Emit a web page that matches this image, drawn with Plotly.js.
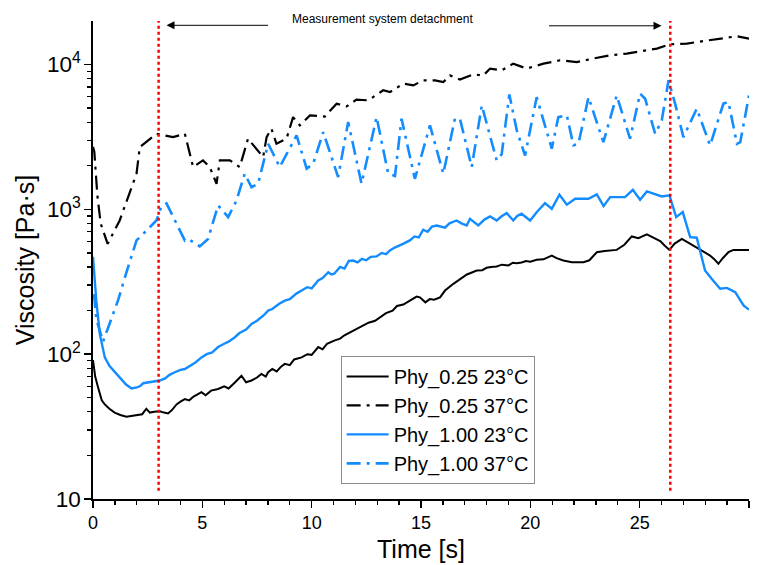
<!DOCTYPE html>
<html>
<head>
<meta charset="utf-8">
<script src="https://cdn.plot.ly/plotly-3.0.1.min.js"></script>
<style>
  html, body { margin: 0; padding: 0; background: #fff; }
  #chart { width: 757px; height: 565px; }
</style>
</head>
<body>
<div id="chart"></div>
<script>
// ---- Data ----
const seriesNames = ["Phy_0.25 23°C", "Phy_0.25 37°C", "Phy_1.00 23°C", "Phy_1.00 37°C"];

const t025_23 = [0,0.1,0.23,0.4,0.54,0.75,0.99,1.25,1.53,1.8,2.06,2.25,2.44,2.6,2.8,3.05,3.25,3.43,3.6,3.82,4.0,4.2,4.4,4.6,4.96,5.15,5.4,5.72,6.0,6.2,6.5,6.79,7.0,7.25,7.5,7.7,7.9,8.01,8.2,8.4,8.6,8.77,9.0,9.2,9.54,9.8,10.0,10.3,10.5,10.7,11.03,11.3,11.5,11.75,12.0,12.3,12.6,12.9,13.12,13.4,13.7,13.9,14.19,14.4,14.6,14.8,14.95,15.2,15.4,15.6,15.87,16.1,16.48,16.8,17.1,17.3,17.55,17.8,18.0,18.2,18.46,18.7,19.0,19.2,19.38,19.6,19.8,20.0,20.29,20.6,20.98,21.2,21.51,21.9,22.43,22.7,23.04,23.4,23.95,24.3,24.64,24.94,25.33,25.6,25.94,26.15,26.36,26.6,26.93,27.3,27.61,27.9,28.22,28.4,28.6,28.8,29.06,29.29,29.6,30];
const v025_23 = [91,70,59,48,45,42,39.5,38,37,37.5,38,38.5,42,39.5,40,40.3,39.5,39,41,45,47,49,48,51,54.6,52,56,57.5,60,58,64,71,64,65.8,69,73,70,75,79,76,82,85.7,84,92,95,100,99,112,108,118,124,128,135,141,148,155,165,170,180,192,200,215,220,230,240,250,247,228,240,238,247,275,306,330,355,365,378,380,395,400,403,415,410,428,425,430,440,435,448,452,480,460,443,432,432,445,506,515,525,570,650,632,671,640,603,560,525,580,626,580,543,510,480,455,421,460,506,525,525,525];

const t025_37 = [0,0.06,0.2,0.35,0.67,1.22,1.99,2.14,2.9,3.66,4.2,4.58,5.03,5.34,5.65,5.8,6.26,6.71,7.09,7.48,7.78,7.94,8.16,8.39,8.85,9.15,9.46,9.92,10.6,11.14,11.6,12.05,12.59,13.27,13.58,14.19,14.65,15.1,15.64,16.02,16.33,16.78,17.39,17.85,18.16,18.69,19.22,19.83,20.6,21.36,22.12,22.88,23.65,24.41,25.17,25.79,26.39,27.16,27.92,28.68,29.45,30];
const v025_37 = [2700,2500,1250,800,578,838,1762,2692,3327,3155,3327,1960,2178,1960,1503,2178,2178,1960,3076,2626,2297,3155,3607,2838,3076,4333,3800,4456,4370,5370,5140,5720,5660,6640,6450,7380,7180,7780,7780,7570,8410,7870,8550,8410,9380,9120,10140,9380,10140,10700,10400,11000,11580,11900,12390,12880,13800,13940,14530,15100,15670,15100];

const t100_23 = [0,0.08,0.15,0.31,0.54,0.75,0.99,1.3,1.5,1.76,2.0,2.14,2.3,2.52,2.8,3.05,3.3,3.5,3.74,4.0,4.2,4.5,4.7,4.96,5.2,5.45,5.72,6.0,6.2,6.49,6.7,7.0,7.25,7.5,7.8,8.01,8.2,8.5,8.77,9.0,9.3,9.54,9.8,10.0,10.3,10.5,10.76,10.9,11.03,11.3,11.5,11.7,11.9,12.1,12.3,12.5,12.7,12.97,13.2,13.4,13.58,13.8,14.0,14.2,14.49,14.7,14.9,15.1,15.3,15.5,15.72,15.9,16.1,16.3,16.63,16.85,17.09,17.24,17.4,17.62,17.9,18.16,18.46,18.7,18.92,19.22,19.4,19.6,19.99,20.3,20.67,20.98,21.33,21.67,22.05,22.66,23.04,23.35,23.65,24.33,24.69,25.02,25.33,26.01,26.36,26.67,26.97,27.31,27.61,27.99,28.3,28.68,28.99,29.37,29.75,30];
const v100_23 = [470,330,234,138,95,83,75,67,62,58,59,60,63,64,65,65.8,68,72,75,78,79,84,88,95,100,103,112,118,122,131,140,148,162,170,185,200,205,222,234,240,262,275,290,285,323,335,368,355,359,400,390,440,443,430,455,445,470,473,500,490,520,545,560,580,610,650,640,723,700,760,774,760,747,800,838,800,774,861,820,774,850,893,838,900,942,838,900,933,838,960,1104,1009,1262,1077,1183,1183,1268,1052,1214,1214,1365,1164,1330,1228,1248,884,957,643,637,378,331,283,287,268,217,203];

const t100_37 = [0.05,0.15,0.46,1.14,1.6,1.99,2.37,2.9,3.13,3.36,4.2,4.35,4.88,5.26,5.72,6.18,6.56,6.94,7.25,7.55,8.01,8.54,9.31,9.77,10.07,10.53,11.21,11.67,12.28,12.97,13.5,13.81,14.11,14.72,15.41,16.02,16.55,16.78,17.32,17.78,18.46,18.69,19.04,19.38,19.76,20.29,20.98,21.28,21.67,21.97,22.2,22.66,23.34,23.95,24.56,25.02,25.25,25.71,26.01,26.32,26.62,27.0,27.61,28.22,28.83,29.06,29.45,29.6,30];
const v100_37 = [260,175,122,234,398,610,695,838,1050,1100,610,625,555,625,1065,884,1150,1762,1422,1503,2838,1960,3244,1911,2066,3414,1670,4010,1503,4333,1762,1700,4227,1625,3800,1762,4227,4227,1960,5220,2178,2400,6220,3510,2355,5950,2626,4333,4456,2768,2838,5950,2910,6120,3076,6300,5807,3327,4110,7780,5370,3155,4956,2768,5370,5510,2838,2910,6120];

const xTicks = [0, 5, 10, 15, 20, 25, 30];
const markerTimes = [3.0, 26.4];
const annotationText = "Measurement system detachment";

// ---- Styling ----
const BLACK = "#000000";
const BLUE = "rgb(18,140,255)";
const FONT = "Liberation Sans, Arial, sans-serif";
const DASHDOT = "14px,6px,3px,6px";

const traces = [
  {x: t025_23, y: v025_23, name: seriesNames[0], mode: "lines", line: {color: BLACK, width: 2}},
  {x: t025_37, y: v025_37, name: seriesNames[1], mode: "lines", line: {color: BLACK, width: 2.2, dash: DASHDOT}},
  {x: t100_23, y: v100_23, name: seriesNames[2], mode: "lines", line: {color: BLUE, width: 2.4}},
  {x: t100_37, y: v100_37, name: seriesNames[3], mode: "lines", line: {color: BLUE, width: 2.6, dash: DASHDOT}}
];

const shapes = markerTimes.map(t => ({
  type: "line", xref: "x", yref: "paper", x0: t, x1: t, y0: 0.017, y1: 1,
  line: {color: "red", width: 2.5, dash: "dot"}
}));

const layout = {
  width: 757, height: 565,
  margin: {l: 93, r: 8, t: 21, b: 66},
  paper_bgcolor: "#fff", plot_bgcolor: "#fff",
  font: {family: FONT, color: "#000"},
  showlegend: true,
  legend: {
    x: 0.3775, y: 0.2994, xanchor: "left", yanchor: "top",
    bordercolor: "#8c8c8c", borderwidth: 1, bgcolor: "#fff",
    font: {family: FONT, size: 20, color: "#000"},
    tracegroupgap: 0, itemwidth: 42
  },
  xaxis: {
    range: [0, 30], tickvals: xTicks, ticktext: xTicks.map(String),
    showline: true, linecolor: "#000", linewidth: 1.6, mirror: false,
    ticks: "outside", ticklen: 7, tickwidth: 1.5, tickcolor: "#000",
    showgrid: false, zeroline: false,
    tickfont: {family: FONT, size: 18, color: "#000"},
    minor: {dtick: 1, ticks: "outside", ticklen: 4, tickwidth: 1.3, tickcolor: "#000", showgrid: false},
    title: {text: "Time [s]", font: {family: FONT, size: 25, color: "#000"}, standoff: 8}
  },
  yaxis: {
    type: "log", range: [1, 4.3006], dtick: 1, exponentformat: "power",
    showline: true, linecolor: "#000", linewidth: 1.6, mirror: false,
    ticks: "outside", ticklen: 7, tickwidth: 1.5, tickcolor: "#000",
    showgrid: false, zeroline: false,
    tickfont: {family: FONT, size: 18, color: "#000"},
    minor: {dtick: "D1", ticks: "outside", ticklen: 4, tickwidth: 1.3, tickcolor: "#000", showgrid: false},
    title: {text: "Viscosity [Pa·s]", font: {family: FONT, size: 25, color: "#000"}, standoff: 5}
  },
  shapes: shapes,
  annotations: [
    {text: annotationText, xref: "paper", yref: "paper", x: (383 - 93.3) / 655.4, y: (498.3 - 19) / 477.6,
     showarrow: false, xanchor: "center", yanchor: "middle", font: {family: FONT, size: 12, color: "#000"}},
    {text: "", xref: "x", yref: "paper", x: 3.36, y: (498.3 - 25) / 477.6,
     showarrow: true, axref: "pixel", ayref: "pixel", ax: 103, ay: 0,
     arrowhead: 2, arrowsize: 1.6, arrowwidth: 1, arrowcolor: "#000"},
    {text: "", xref: "x", yref: "paper", x: 26.0, y: (498.3 - 25.5) / 477.6,
     showarrow: true, axref: "pixel", ayref: "pixel", ax: -114, ay: 0,
     arrowhead: 2, arrowsize: 1.6, arrowwidth: 1, arrowcolor: "#000"}
  ]
};

Plotly.newPlot("chart", traces, layout, {displayModeBar: false, staticPlot: true});
</script>
</body>
</html>
